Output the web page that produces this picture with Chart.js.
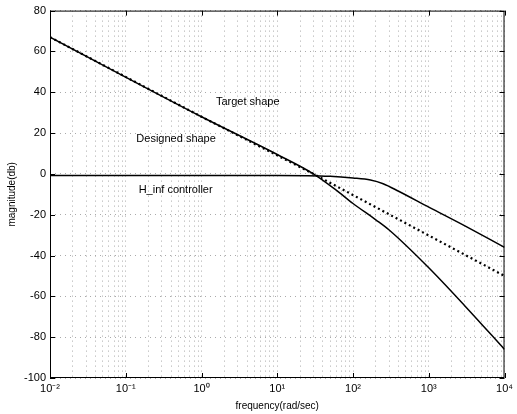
<!DOCTYPE html>
<html>
<head>
<meta charset="utf-8">
<script src="https://cdn.jsdelivr.net/npm/chart.js@4"></script>
<style>
  html, body { margin: 0; padding: 0; background: #fff; }
</style>
</head>
<body>
<canvas id="bodeChart" width="517" height="414"></canvas>
<script>
// frequency decades (rad/sec) and their labels
const decades = [0.01, 0.1, 1, 10, 100, 1000, 10000];
const decadeLabels = ['10⁻²', '10⁻¹', '10⁰', '10¹', '10²', '10³', '10⁴'];
const yTicks = [-100, -80, -60, -40, -20, 0, 20, 40, 60, 80];

// target loop shape (dotted)
const targetFreq = [0.01, 1, 30, 10000];
const targetDb = [67, 28, 0, -50];

// designed loop shape (solid)
const designedFreq = [0.01, 1, 10, 30, 60, 100, 200, 300, 1000, 3000, 10000];
const designedDb = [67, 28, 9.5, 0, -8, -14.5, -22.5, -27.5, -46, -64.7, -86];

// H_inf controller (solid)
const hinfFreq = [0.01, 10, 50, 100, 170, 250, 400, 1000, 3000, 10000];
const hinfDb = [-0.8, -0.8, -1.2, -2, -3, -4.8, -8.5, -16.3, -25.5, -36];

// text notes inside the plot
const noteText = ['Target shape', 'Designed shape', 'H_inf controller'];
const noteFreq = [1.55, 0.138, 0.148];
const noteDb = [35, 17, -8];

const FONT = '"Liberation Sans", Arial, sans-serif';

function toPoints(xs, ys) {
    return xs.map((x, i) => ({ x: x, y: ys[i] }));
}

// all log grid positions 1..9 x 10^n
const logGrid = [];
decades.forEach((d, i) => {
    if (i == decades.length - 1) { logGrid.push(d); return; }
    for (let m = 1; m < 10; m++) logGrid.push(+(m * d).toPrecision(3));
});

// box around plot + inward ticks like matlab
const boxPlugin = {
    id: 'boxPlugin',
    afterDraw(chart) {
        const ctx = chart.ctx;
        const a = chart.chartArea;
        const xs = chart.scales.x, ys = chart.scales.y;
        ctx.save();
        ctx.strokeStyle = '#000';
        ctx.lineWidth = 1;
        ctx.strokeRect(a.left + 0.5, a.top + 0.5, a.right - a.left - 1, a.bottom - a.top - 1);
        ctx.beginPath();
        yTicks.forEach(v => {
            const py = Math.round(ys.getPixelForValue(v)) + 0.5;
            ctx.moveTo(a.left, py); ctx.lineTo(a.left + 5, py);
            ctx.moveTo(a.right, py); ctx.lineTo(a.right - 5, py);
        });
        decades.forEach(v => {
            const px = Math.round(xs.getPixelForValue(v)) + 0.5;
            ctx.moveTo(px, a.top); ctx.lineTo(px, a.top + 5);
            ctx.moveTo(px, a.bottom); ctx.lineTo(px, a.bottom - 5);
        });
        ctx.stroke();

        ctx.fillStyle = '#000';
        ctx.font = '11px ' + FONT;
        ctx.textBaseline = 'middle';
        ctx.textAlign = 'left';
        noteText.forEach((t, i) => {
            ctx.fillText(t, xs.getPixelForValue(noteFreq[i]), ys.getPixelForValue(noteDb[i]));
        });
        ctx.restore();
    }
};

new Chart(document.getElementById('bodeChart'), {
    type: 'line',
    data: {
        datasets: [
            {
                label: 'Target shape',
                data: toPoints(targetFreq, targetDb),
                borderColor: '#000',
                borderWidth: 2.2,
                borderDash: [2, 3],
                pointRadius: 0,
                fill: false,
            },
            {
                label: 'Designed shape',
                data: toPoints(designedFreq, designedDb),
                borderColor: '#000',
                borderWidth: 1.5,
                pointRadius: 0,
                cubicInterpolationMode: 'monotone',
                fill: false,
            },
            {
                label: 'H_inf controller',
                data: toPoints(hinfFreq, hinfDb),
                borderColor: '#000',
                borderWidth: 1.5,
                pointRadius: 0,
                cubicInterpolationMode: 'monotone',
                fill: false,
            },
        ],
    },
    options: {
        responsive: false,
        animation: false,
        devicePixelRatio: 1,
        layout: { padding: { top: 10, right: 9, left: 0, bottom: 0 } },
        plugins: { legend: { display: false }, tooltip: { enabled: false } },
        scales: {
            x: {
                type: 'logarithmic',
                min: 0.01,
                max: 10000,
                afterBuildTicks: s => { s.ticks = logGrid.map(v => ({ value: v })); },
                afterFit: s => { s.height = 36; },
                ticks: {
                    autoSkip: false,
                    maxRotation: 0,
                    padding: 4,
                    color: '#000',
                    font: { family: FONT, size: 11 },
                    callback: v => {
                        const i = decades.indexOf(v);
                        return i >= 0 ? decadeLabels[i] : '';
                    },
                },
                grid: { color: '#aaa', lineWidth: 1, drawTicks: false },
                border: { display: false, dash: [1, 4] },
                title: {
                    display: true,
                    text: 'frequency(rad/sec)',
                    color: '#000',
                    font: { family: FONT, size: 10 },
                    padding: { top: 0, bottom: 2 },
                },
            },
            y: {
                min: -100,
                max: 80,
                afterBuildTicks: s => { s.ticks = yTicks.map(v => ({ value: v })); },
                afterFit: s => { s.width = 50; },
                ticks: {
                    padding: 4,
                    color: '#000',
                    font: { family: FONT, size: 11 },
                },
                grid: { color: '#aaa', lineWidth: 1, drawTicks: false },
                border: { display: false, dash: [1, 4] },
                title: {
                    display: true,
                    text: 'magnitude(db)',
                    color: '#000',
                    font: { family: FONT, size: 10 },
                    padding: { top: 6, bottom: 0 },
                },
            },
        },
    },
    plugins: [boxPlugin],
});
</script>
</body>
</html>
